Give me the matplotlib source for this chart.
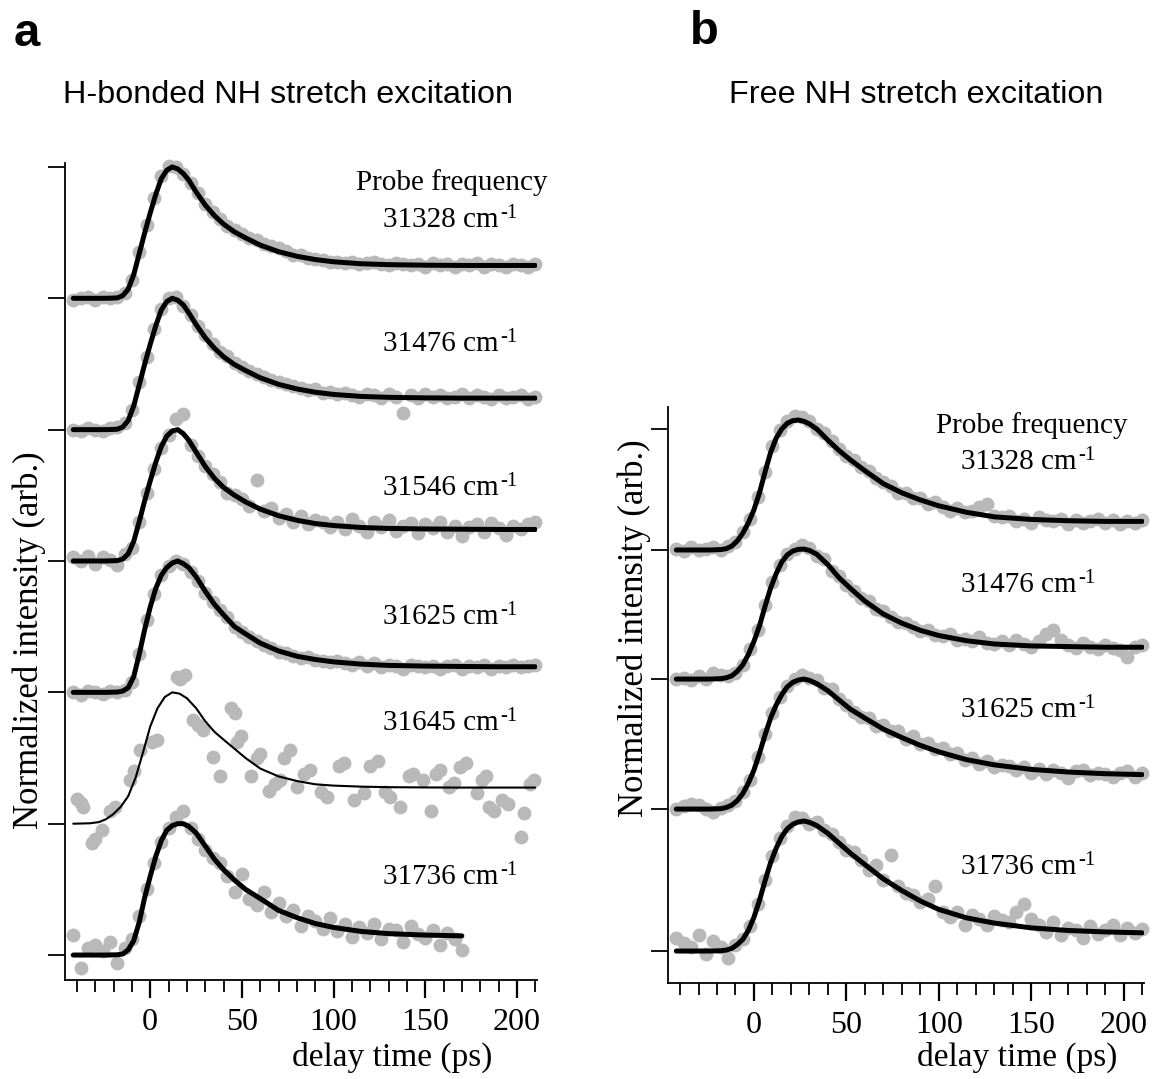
"""
plot.py
-------
Two-panel figure: normalized transient intensity vs delay time for several
probe frequencies after (a) H-bonded and (b) free NH stretch excitation.
Gray dots = measured points, black lines = fits.  Saved as out.png.
"""

import matplotlib
matplotlib.use("Agg")
import matplotlib.pyplot as plt
import matplotlib.ticker as mticker

W, H, DPI = 1153, 1079, 100

GRAY = "#b9b9b9"
SERIF = "Liberation Serif"
SANS = "Liberation Sans"

plt.rcParams["font.family"] = SERIF

# ── Data ──────────────────────────────────────────────────────────────────────

# delay times (ps) of the measured points
DOT_T = [-42, -38, -34, -30, -26, -22, -18, -14, -10, -6, -2, 2, 6, 10, 14, 18,
         22, 26, 30, 34, 38, 42, 46, 50, 54, 58, 62, 66, 70, 74, 78, 82, 86, 90,
         94, 98, 102, 106, 110, 114, 118, 122, 126, 130, 134, 138, 142, 146,
         150, 154, 158, 162, 166, 170, 174, 178, 182, 186, 190, 194, 198, 202,
         206, 210]

# delay times (ps) where the fit curves were read
FIT_T_A = [-42, -24, -18, -15, -12, -9, -6, -3, 0, 3, 6, 9, 12, 15, 18, 21, 25,
           30, 35, 40, 46, 52, 60, 70, 80, 90, 100, 115, 130, 150, 170, 190, 210]
FIT_T_A5 = [-42, -33, -28, -24, -20, -16, -12, -8, -4, 0, 4, 8, 12, 16, 20, 25,
            30, 35, 40, 46, 52, 60, 70, 80, 90, 100, 115, 130, 150, 170, 190, 210]
FIT_T_B = [-42, -24, -18, -15, -12, -9, -6, -3, 0, 3, 6, 9, 12, 15, 18, 21, 24,
           27, 30, 34, 40, 46, 52, 60, 70, 80, 90, 100, 115, 130, 150, 170, 190,
           210]

# panel a: H-bonded NH stretch excitation
A_31328_DOTS = [-0.01, 0.0, 0.01, -0.01, 0.01, 0.0, 0.01, 0.04, 0.14, 0.35,
                0.56, 0.76, 0.93, 1.01, 1.0, 0.95, 0.88, 0.8, 0.72, 0.66,
                0.6, 0.55, 0.52, 0.49, 0.46, 0.44, 0.41, 0.4, 0.38, 0.36,
                0.33, 0.33, 0.31, 0.3, 0.29, 0.28, 0.28, 0.27, 0.28, 0.26,
                0.27, 0.28, 0.26, 0.25, 0.27, 0.26, 0.25, 0.26, 0.24, 0.27,
                0.25, 0.26, 0.24, 0.26, 0.25, 0.27, 0.24, 0.26, 0.25, 0.24,
                0.26, 0.25, 0.24, 0.26]
A_31328_FIT = [0, 0, 0.003, 0.02, 0.07, 0.18, 0.34, 0.5, 0.65, 0.79, 0.91, 0.975,
               1.0, 0.985, 0.95, 0.9, 0.81, 0.71, 0.63, 0.565, 0.505, 0.46,
               0.405, 0.355, 0.32, 0.295, 0.278, 0.263, 0.256, 0.252, 0.25,
               0.25, 0.25]

A_31476_DOTS = [0.0, -0.01, 0.01, 0.0, -0.01, 0.01, 0.02, 0.05, 0.15, 0.36,
                0.55, 0.77, 0.92, 1.0, 1.01, 0.94, 0.87, 0.79, 0.72, 0.65,
                0.59, 0.56, 0.51, 0.48, 0.45, 0.42, 0.4, 0.38, 0.36, 0.35,
                0.33, 0.32, 0.3, 0.31, 0.28, 0.29, 0.27, 0.28, 0.26, 0.25,
                0.27, 0.26, 0.24, 0.27, 0.25, 0.13, 0.26, 0.24, 0.27, 0.25,
                0.26, 0.24, 0.25, 0.27, 0.24, 0.26, 0.25, 0.23, 0.26, 0.24,
                0.25, 0.26, 0.23, 0.25]
A_31476_FIT = [0, 0, 0.003, 0.02, 0.07, 0.18, 0.34, 0.5, 0.65, 0.79, 0.91, 0.975,
               1.0, 0.985, 0.95, 0.89, 0.8, 0.7, 0.62, 0.555, 0.495, 0.45,
               0.395, 0.345, 0.31, 0.285, 0.268, 0.253, 0.246, 0.242, 0.24,
               0.24, 0.24]

A_31546_DOTS = [0.03, 0.0, 0.04, -0.02, 0.03, 0.01, -0.03, 0.05, 0.1, 0.3,
                0.52, 0.7, 0.86, 0.96, 1.08, 1.12, 0.88, 0.8, 0.72, 0.66,
                0.6, 0.52, 0.5, 0.47, 0.42, 0.62, 0.38, 0.4, 0.33, 0.36,
                0.3, 0.34, 0.28, 0.31, 0.3, 0.26, 0.3, 0.24, 0.32, 0.27,
                0.22, 0.3, 0.26, 0.31, 0.23, 0.27, 0.29, 0.21, 0.28, 0.25,
                0.3, 0.22, 0.27, 0.19, 0.26, 0.28, 0.22, 0.29, 0.25, 0.2,
                0.27, 0.24, 0.28, 0.3]
A_31546_FIT = [0, 0, 0.003, 0.015, 0.055, 0.15, 0.3, 0.46, 0.61, 0.75, 0.87,
               0.95, 0.99, 1.0, 0.97, 0.92, 0.83, 0.72, 0.63, 0.56, 0.5, 0.45,
               0.395, 0.345, 0.31, 0.285, 0.27, 0.255, 0.248, 0.244, 0.242,
               0.24, 0.24]

A_31625_DOTS = [0.0, -0.02, 0.01, 0.0, -0.01, 0.01, 0.0, 0.02, 0.08, 0.29,
                0.55, 0.75, 0.89, 0.96, 1.0, 0.98, 0.92, 0.85, 0.76, 0.69,
                0.63, 0.57, 0.5, 0.46, 0.42, 0.39, 0.36, 0.34, 0.31, 0.3,
                0.28, 0.26, 0.27, 0.25, 0.24, 0.23, 0.24, 0.22, 0.21, 0.23,
                0.2, 0.22, 0.19, 0.21, 0.2, 0.18, 0.21, 0.2, 0.19, 0.2,
                0.18, 0.2, 0.21, 0.18, 0.2, 0.19, 0.21, 0.18, 0.2, 0.19,
                0.21, 0.19, 0.2, 0.21]
A_31625_FIT = [0, 0, 0.002, 0.01, 0.035, 0.12, 0.29, 0.48, 0.65, 0.79, 0.89,
               0.95, 0.985, 1.0, 0.98, 0.95, 0.88, 0.77, 0.67, 0.59, 0.5, 0.445,
               0.375, 0.315, 0.275, 0.25, 0.232, 0.215, 0.205, 0.2, 0.197,
               0.195, 0.195]

# the noisy 31645 trace: its delays and values are read point by point
A_31645_T = [-40, -36.5, -32, -26.5, -19, -11, -5.5, 3.5, 14.5, 19, 23.5, 29,
             34.5, 38, 46, 49.5, 55, 60, 65, 71, 76.5, 80, 87, 96.5, 105.5, 111,
             116.5, 124, 131, 136.5, 143.5, 149, 153, 158, 165.5, 172, 178, 183,
             187.5, 195, 202, 204, 209.5,
             -38, -30, -22, -9, 1, 16, 26, 44, 47.5, 58, 68, 73, 84, 93, 103,
             120, 128, 141, 156, 163, 169, 181, 185, 192, 207]
A_31645_DOTS = [0.19, 0.13, -0.15, -0.05, 0.13, 0.33, 0.56, 0.64, 1.12, 1.13,
                0.79, 0.71, 0.51, 0.36, 0.84, 0.67, 0.36, 0.53, 0.25, 0.33,
                0.56, 0.28, 0.41, 0.2, 0.46, 0.18, 0.23, 0.48, 0.2, 0.13,
                0.38, 0.33, 0.1, 0.41, 0.31, 0.46, 0.23, 0.36, 0.1, 0.15,
                -0.1, 0.08, 0.33,
                0.16, -0.12, 0.1, 0.4, 0.62, 1.1, 0.75, 0.88, 0.62, 0.5,
                0.3, 0.5, 0.38, 0.24, 0.44, 0.44, 0.24, 0.36, 0.38, 0.28,
                0.43, 0.33, 0.13, 0.18, 0.3]
A_31645_FIT = [0, 0.003, 0.012, 0.035, 0.075, 0.13, 0.21, 0.35, 0.54, 0.74,
               0.88, 0.965, 1.0, 0.99, 0.955, 0.88, 0.78, 0.7, 0.64, 0.57, 0.5,
               0.42, 0.36, 0.325, 0.3, 0.29, 0.282, 0.278, 0.276, 0.275, 0.275,
               0.275]

A_31736_DOTS = [0.15, -0.1, 0.05, 0.08, 0.03, 0.1, -0.06, 0.05, 0.12, 0.3,
                0.5, 0.7, 0.86, 0.97, 1.05, 1.1, 0.97, 0.88, 0.8, 0.74,
                0.7, 0.6, 0.48, 0.62, 0.43, 0.38, 0.48, 0.33, 0.4, 0.3,
                0.34, 0.22, 0.3, 0.26, 0.2, 0.28, 0.18, 0.24, 0.14, 0.21,
                0.17, 0.24, 0.12, 0.2, 0.19, 0.1, 0.22, 0.16, 0.13, 0.19,
                0.08, 0.17, 0.12, 0.04]
A_31736_FIT = [0, 0, 0.002, 0.008, 0.04, 0.11, 0.25, 0.44, 0.6, 0.75, 0.87, 0.95,
               0.985, 1.0, 1.0, 0.98, 0.93, 0.83, 0.73, 0.65, 0.57, 0.5, 0.43,
               0.34, 0.285, 0.24, 0.21, 0.18, 0.163, 0.152, 0.146]

# panel b: free NH stretch excitation
B_31328_DOTS = [0.01, -0.01, 0.02, 0.0, 0.01, 0.02, 0.0, 0.03, 0.06, 0.14,
                0.24, 0.41, 0.6, 0.8, 0.92, 0.99, 1.03, 1.02, 0.99, 0.93,
                0.9, 0.84, 0.78, 0.72, 0.69, 0.64, 0.61, 0.55, 0.52, 0.49,
                0.44, 0.44, 0.4, 0.4, 0.35, 0.37, 0.33, 0.3, 0.32, 0.29,
                0.3, 0.33, 0.35, 0.26, 0.25, 0.26, 0.22, 0.24, 0.21, 0.25,
                0.23, 0.22, 0.24, 0.2, 0.23, 0.21, 0.22, 0.24, 0.21, 0.23,
                0.2, 0.22, 0.21, 0.23]
B_31328_FIT = [0, 0, 0.003, 0.01, 0.03, 0.07, 0.13, 0.21, 0.31, 0.44, 0.6, 0.75,
               0.86, 0.93, 0.975, 0.995, 1.0, 0.99, 0.97, 0.93, 0.845, 0.765,
               0.695, 0.61, 0.51, 0.44, 0.385, 0.34, 0.29, 0.255, 0.235, 0.225,
               0.22, 0.22]

B_31476_DOTS = [0.0, 0.01, -0.01, 0.02, 0.0, 0.05, 0.03, 0.02, 0.05, 0.11,
                0.23, 0.38, 0.57, 0.75, 0.88, 0.96, 1.0, 1.03, 1.01, 0.95,
                0.92, 0.83, 0.79, 0.72, 0.68, 0.62, 0.6, 0.54, 0.52, 0.48,
                0.44, 0.43, 0.4, 0.37, 0.38, 0.34, 0.33, 0.35, 0.3, 0.31,
                0.29, 0.32, 0.28, 0.27, 0.29, 0.26, 0.3, 0.27, 0.25, 0.29,
                0.35, 0.38, 0.3, 0.26, 0.24, 0.28, 0.25, 0.23, 0.26, 0.24,
                0.22, 0.17, 0.25, 0.26]
B_31476_FIT = [0, 0, 0.003, 0.01, 0.025, 0.06, 0.11, 0.19, 0.29, 0.41, 0.56, 0.7,
               0.81, 0.9, 0.955, 0.985, 0.998, 1.0, 0.99, 0.96, 0.88, 0.78, 0.7,
               0.6, 0.5, 0.43, 0.375, 0.335, 0.295, 0.27, 0.255, 0.25, 0.245,
               0.245]

B_31625_DOTS = [0.0, 0.02, 0.04, 0.03, 0.0, -0.02, 0.01, 0.03, 0.06, 0.13,
                0.22, 0.4, 0.58, 0.74, 0.86, 0.95, 1.0, 1.03, 1.01, 0.99,
                0.93, 0.92, 0.85, 0.8, 0.75, 0.71, 0.7, 0.64, 0.65, 0.6,
                0.6, 0.54, 0.56, 0.5, 0.51, 0.46, 0.47, 0.42, 0.43, 0.38,
                0.39, 0.35, 0.37, 0.32, 0.34, 0.33, 0.3, 0.32, 0.28, 0.31,
                0.27, 0.3, 0.28, 0.24, 0.29, 0.3, 0.26, 0.28, 0.27, 0.25,
                0.28, 0.29, 0.25, 0.28]
B_31625_FIT = [0, 0, 0.003, 0.012, 0.03, 0.065, 0.12, 0.2, 0.3, 0.43, 0.57, 0.7,
               0.8, 0.88, 0.94, 0.975, 0.993, 1.0, 0.99, 0.965, 0.91, 0.84,
               0.77, 0.7, 0.615, 0.55, 0.49, 0.44, 0.38, 0.34, 0.305, 0.285,
               0.272, 0.265]

B_31736_DOTS = [0.1, 0.06, 0.03, 0.12, -0.02, 0.08, 0.03, -0.05, 0.05, 0.09,
                0.19, 0.36, 0.55, 0.73, 0.87, 0.96, 1.03, 1.02, 0.98, 0.99,
                0.93, 0.9, 0.84, 0.78, 0.76, 0.7, 0.62, 0.66, 0.55, 0.74,
                0.5, 0.45, 0.43, 0.38, 0.4, 0.5, 0.3, 0.26, 0.3, 0.2,
                0.28, 0.25, 0.2, 0.27, 0.24, 0.22, 0.3, 0.36, 0.25, 0.2,
                0.15, 0.22, 0.12, 0.18, 0.16, 0.1, 0.19, 0.13, 0.16, 0.2,
                0.12, 0.18, 0.14, 0.17]
B_31736_FIT = [0, 0, 0.002, 0.007, 0.02, 0.05, 0.09, 0.16, 0.26, 0.39, 0.54, 0.68,
               0.79, 0.88, 0.94, 0.975, 0.993, 1.0, 0.99, 0.965, 0.905, 0.83,
               0.755, 0.665, 0.555, 0.465, 0.385, 0.32, 0.255, 0.215, 0.178,
               0.158, 0.147, 0.14]

X_MAJOR = [0, 50, 100, 150, 200]

# ── Layout (pixel positions in the 1153 x 1079 canvas) ───────────────────────

A_OFFSETS = [5, 4, 3, 2, 1, 0]
A_YTICKS = [0, 1, 2, 3, 4, 5, 6]
B_OFFSETS = [3.085, 2.092, 1.092, 0]
B_YTICKS = [0, 1.092, 2.092, 3.085, 4.015]

A_LABEL_Y = [220, 344, 488, 617, 723, 877]
B_LABEL_Y = [462, 585, 710, 867]


def fx(x):
    return x / W


def fy(y):
    return 1 - y / H


def _style(ax, ylim, yticks):
    ax.set_xlim(-46.5, 211)
    ax.set_ylim(*ylim)
    for s in ("top", "right"):
        ax.spines[s].set_visible(False)
    for s in ("left", "bottom"):
        ax.spines[s].set_linewidth(1.3)
    ax.set_yticks(yticks)
    ax.set_yticklabels([])
    ax.xaxis.set_major_locator(mticker.FixedLocator(X_MAJOR))
    ax.xaxis.set_minor_locator(mticker.MultipleLocator(10))
    ax.tick_params(axis="y", direction="out", length=12, width=1.3)
    ax.tick_params(axis="x", which="major", direction="out", length=13,
                   width=1.6, labelsize=23, pad=7)
    ax.tick_params(axis="x", which="minor", direction="out", length=8.5,
                   width=1.3)
    ax.patch.set_alpha(0)


def _trace(ax, t_dots, dots, t_fit, fit, off, lw=3.6):
    ax.plot(t_dots[:len(dots)], [v + off for v in dots], "o", color=GRAY,
            ms=10, mew=0, zorder=1, clip_on=False)
    ax.plot(t_fit[:len(fit)], [v + off for v in fit], "-", color="black",
            lw=lw, solid_capstyle="round", solid_joinstyle="round", zorder=2)


def _freq_label(ax, x, y, name):
    """'31328 cm' with a small raised '-1' set right after it."""
    t = fig.text(fx(x), fy(y), f"{name} cm", ha="left", va="center",
                 fontsize=21)
    ax.annotate("-1", xy=(1.0, 1.1), xycoords=t, xytext=(1, 0),
                textcoords="offset points", ha="left", va="top", fontsize=15,
                annotation_clip=False)


fig = plt.figure(figsize=(W / DPI, H / DPI), dpi=DPI)
ax_a = fig.add_axes([fx(65), fy(980), 472 / W, 817 / H])
ax_b = fig.add_axes([fx(668), fy(983), 476 / W, 576 / H])

# ── Panel a ───────────────────────────────────────────────────────────────────
a_traces = [
    ("31328", DOT_T, A_31328_DOTS, FIT_T_A, A_31328_FIT, 3.6),
    ("31476", DOT_T, A_31476_DOTS, FIT_T_A, A_31476_FIT, 3.6),
    ("31546", DOT_T, A_31546_DOTS, FIT_T_A, A_31546_FIT, 3.6),
    ("31625", DOT_T, A_31625_DOTS, FIT_T_A, A_31625_FIT, 3.6),
    ("31645", A_31645_T, A_31645_DOTS, FIT_T_A5, A_31645_FIT, 1.5),
    ("31736", DOT_T, A_31736_DOTS, FIT_T_A, A_31736_FIT, 3.6),
]
for (name, td, dots, tf, fit, lw), off, ly in zip(a_traces, A_OFFSETS,
                                                 A_LABEL_Y):
    _trace(ax_a, td, dots, tf, fit, off, lw)
    _freq_label(ax_a, 383, ly, name)
_style(ax_a, (-0.19, 6.03), A_YTICKS)
fig.text(fx(452), fy(183), "Probe frequency", ha="center", va="center",
         fontsize=21)

# ── Panel b ───────────────────────────────────────────────────────────────────
b_traces = [
    ("31328", B_31328_DOTS, B_31328_FIT),
    ("31476", B_31476_DOTS, B_31476_FIT),
    ("31625", B_31625_DOTS, B_31625_FIT),
    ("31736", B_31736_DOTS, B_31736_FIT),
]
for (name, dots, fit), off, ly in zip(b_traces, B_OFFSETS, B_LABEL_Y):
    _trace(ax_b, DOT_T, dots, FIT_T_B, fit, off)
    _freq_label(ax_b, 961, ly, name)
_style(ax_b, (-0.246, 4.185), B_YTICKS)
fig.text(fx(1032), fy(426), "Probe frequency", ha="center", va="center",
         fontsize=21)

# ── Labels and titles ────────────────────────────────────────────────────────
for x in (392, 1017):
    fig.text(fx(x), fy(1057), "delay time (ps)", ha="center", va="center",
             fontsize=24)
fig.text(fx(29), fy(640), "Normalized intensity (arb.)", rotation=90,
         ha="center", va="center", fontsize=25)
fig.text(fx(634), fy(628), "Normalized intensity (arb.)", rotation=90,
         ha="center", va="center", fontsize=25)

fig.text(fx(288), fy(95), "H-bonded NH stretch excitation", ha="center",
         va="center", fontsize=23.3, family=SANS)
fig.text(fx(916), fy(95), "Free NH stretch excitation", ha="center",
         va="center", fontsize=23.3, family=SANS)
fig.text(fx(27), fy(34), "a", ha="center", va="center", fontsize=34,
         family=SANS, weight="bold")
fig.text(fx(704), fy(32), "b", ha="center", va="center", fontsize=34,
         family=SANS, weight="bold")

fig.savefig("out.png", dpi=DPI)
